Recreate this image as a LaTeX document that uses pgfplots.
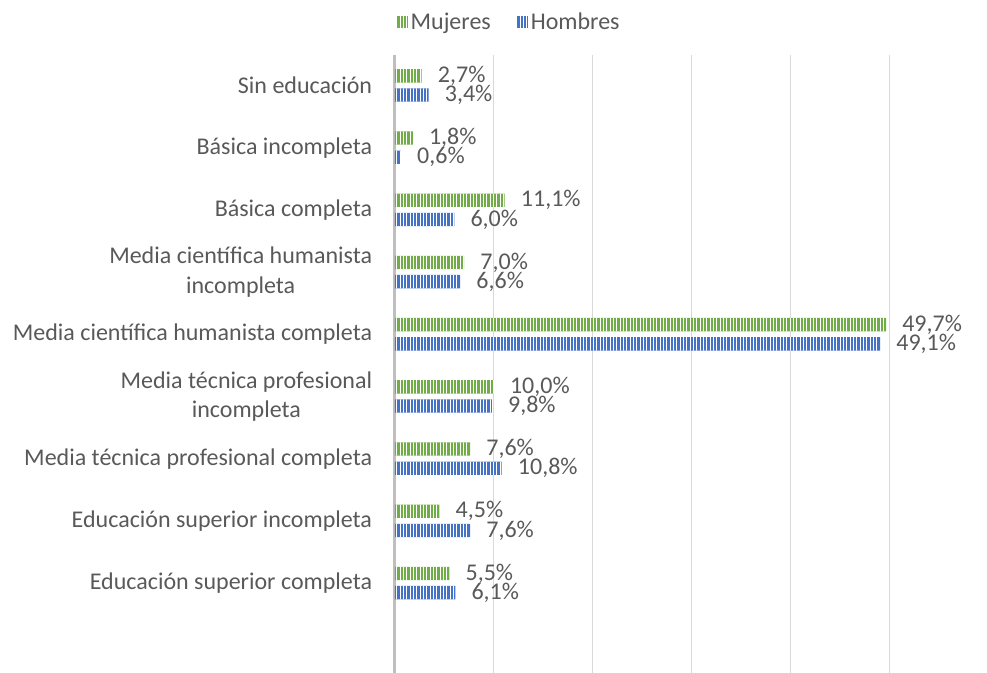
\documentclass[border=0pt]{standalone}
\usepackage{fontspec}
\setmainfont{Carlito}
\usepackage{pgfplots}
\pgfplotsset{compat=1.18}
\usetikzlibrary{patterns.meta}
\definecolor{grn}{HTML}{70AD47}
\definecolor{blu}{HTML}{4472C4}
\definecolor{txt}{HTML}{595959}
\definecolor{grd}{HTML}{D9D9D9}
\definecolor{axl}{HTML}{BFBFBF}
\begin{document}
\begin{tikzpicture}
\useasboundingbox (-296.25pt,0pt) rectangle (444pt,504.75pt);
\begin{axis}[
  scale only axis,
  width=370.5pt, height=463.5pt,
  xbar, bar width=10pt,
  xmin=0, xmax=50,
  ymin=-0.49, ymax=9.446,
  y dir=reverse,
  axis line style={draw=none},
  xtick={10,20,30,40,50}, xticklabels={},
  xmajorgrids, grid style={grd, line width=0.75pt},
  extra x ticks={0}, extra x tick labels={},
  extra x tick style={grid style={axl, line width=2.25pt}},
  major tick length=0pt,
  ytick={0,...,8},
  yticklabels={Sin educación, Básica incompleta, Básica completa, Media científica humanista\\incompleta, Media científica humanista completa, Media técnica profesional\\incompleta, Media técnica profesional completa, Educación superior incompleta, Educación superior completa},
  yticklabel style={align=center, anchor=east, inner sep=0pt, xshift=-17pt, text=txt, font=\fontsize{18}{22}\selectfont},
  /pgf/number format/assume math mode=true,
  nodes near coords={\pgfmathprintnumber[fixed,fixed zerofill,precision=1,use comma]{\pgfplotspointmeta}\%},
  every node near coord/.append style={anchor=west, inner sep=0pt, xshift=12pt, text=txt, font=\fontsize{18}{22}\selectfont},
  legend style={at={(0.231,1)}, anchor=center, yshift=24.75pt, legend columns=2, draw=none, fill=none, text=txt, font=\fontsize{18}{22}\selectfont,
    /tikz/every even column/.append style={column sep=17pt}},
  legend cell align=left,
]
\addplot[fill=grn, draw=none, bar shift=7.2pt,
  postaction={pattern={Lines[angle=90,distance=2.5pt,line width=0.6pt]}, pattern color=white},
  legend image code/.code={\fill[grn] (0pt,-4.5pt) rectangle (9pt,4.5pt); \fill[pattern={Lines[angle=90,distance=2.5pt,line width=0.6pt]}, pattern color=white] (0pt,-4.5pt) rectangle (9pt,4.5pt);}]
coordinates {(2.7,0) (1.8,1) (11.1,2) (7.0,3) (49.7,4) (10.0,5) (7.6,6) (4.5,7) (5.5,8)};
\addlegendentry{Mujeres}
\addplot[fill=blu, draw=none, bar shift=-7.2pt,
  postaction={pattern={Lines[angle=90,distance=2.5pt,line width=0.6pt]}, pattern color=white},
  legend image code/.code={\fill[blu] (0pt,-4.5pt) rectangle (9pt,4.5pt); \fill[pattern={Lines[angle=90,distance=2.5pt,line width=0.6pt]}, pattern color=white] (0pt,-4.5pt) rectangle (9pt,4.5pt);}]
coordinates {(3.4,0) (0.6,1) (6.0,2) (6.6,3) (49.1,4) (9.8,5) (10.8,6) (7.6,7) (6.1,8)};
\addlegendentry{Hombres}
\end{axis}
\end{tikzpicture}
\end{document}
